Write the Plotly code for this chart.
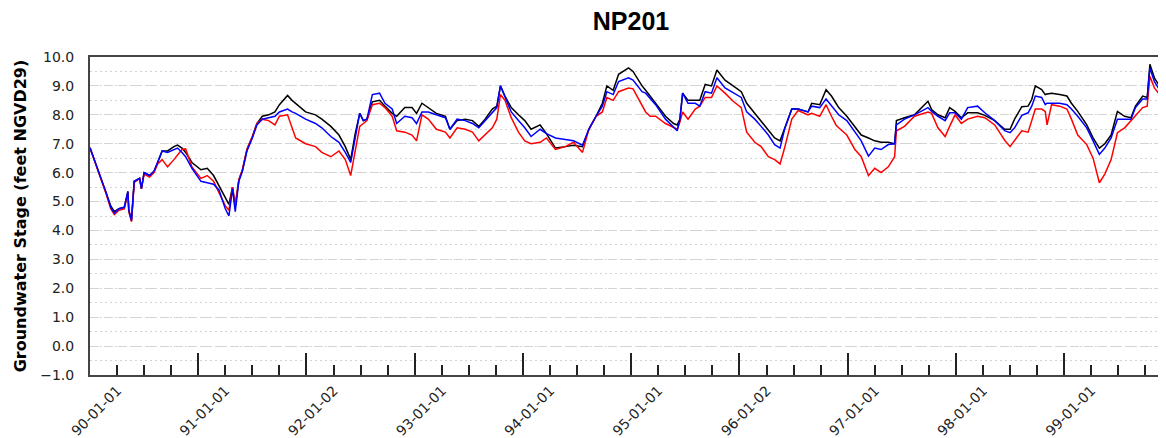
import numpy as np
import pandas as pd
import plotly.graph_objects as go

# ---- data ----
# months elapsed since 1989-10-01 (start of water year 1990)
month_offset = [
    0.0, 1.0, 1.8, 2.3, 2.7, 3.2, 3.8, 4.2, 4.3, 4.6, 4.9, 5.5, 5.7, 6.0, 6.6, 7.1, 7.5,
    8.0, 8.6, 9.3, 9.7, 10.2, 10.6, 11.3, 12.3, 13.0, 13.7, 14.3, 15.0, 15.4, 15.8, 16.1,
    16.5, 16.9, 17.4, 18.0, 18.5, 19.1, 19.8, 20.5,
    21.0, 21.9, 22.4, 22.8, 23.9, 25.0, 25.7, 26.7, 27.6, 28.3, 28.9, 29.4, 29.9, 30.3,
    30.7, 31.3, 32.1, 32.7, 33.5, 34.0, 34.9, 35.7, 36.2, 36.8, 37.5, 38.4, 39.4, 39.9, 40.7,
    41.6, 42.4, 43.1, 43.8, 44.6, 45.1, 45.5, 46.0, 46.7, 47.5, 48.2, 48.9, 49.9, 50.6,
    51.6, 52.7, 53.6, 54.6, 55.3, 56.1, 56.8, 57.3, 58.0, 58.6, 59.7, 60.2, 61.2,
    61.6, 62.1, 62.7, 63.8, 64.7, 65.1, 65.4, 65.7, 66.3, 67.1, 67.6, 68.2, 68.9, 69.5,
    70.4, 71.3, 72.2, 72.8, 73.7, 74.4, 75.2, 75.9, 76.5, 77.0, 77.8, 78.5, 79.6, 80.0,
    80.9, 81.6, 82.2, 82.7,
    83.0, 83.9, 84.8, 85.5, 86.3, 87.0, 87.7, 88.5, 89.2, 89.4, 90.3, 91.4, 92.9, 93.3,
    94.0, 94.8, 95.3, 95.9, 96.6, 97.3, 98.4, 99.2, 100.3, 101.4, 102.0, 102.5, 103.3,
    104.0, 104.4, 104.8, 105.5, 105.9, 106.1, 106.6, 107.5, 108.3, 108.8, 109.5, 110.5,
    111.2, 111.9, 112.5, 113.2, 113.9, 114.7, 115.4, 115.9, 116.7, 117.2, 117.5, 118.0,
    118.7, 119.7, 120.0,
]

stage_black = [
    6.86, 6.00, 5.30, 4.85, 4.65, 4.75, 4.80, 5.35, 4.70, 4.35, 5.70, 5.80, 5.45, 6.00, 5.90, 6.05, 6.35,
    6.75, 6.75, 6.90, 6.95, 6.85, 6.70, 6.35, 6.10, 6.15, 5.90, 5.55, 5.10, 4.90, 5.50, 4.85,
    5.75, 6.10, 6.80, 7.25, 7.70, 7.95, 8.00, 8.10,
    8.35, 8.67, 8.50, 8.40, 8.10, 8.00, 7.85, 7.60, 7.30, 6.90, 6.45, 7.35, 8.05, 7.80,
    7.85, 8.45, 8.50, 8.30, 8.05, 7.95, 8.25, 8.25, 8.05, 8.40, 8.25, 8.05, 7.95, 7.50, 7.80,
    7.85, 7.80, 7.60, 7.85, 8.20, 8.30, 9.00, 8.65, 8.25, 8.00, 7.80, 7.50, 7.65, 7.35,
    6.85, 6.90, 6.95, 6.90, 7.50, 7.95, 8.40, 9.00, 8.85, 9.40, 9.62, 9.50, 9.00,
    8.85, 8.65, 8.40, 7.95, 7.70, 7.65, 7.85, 8.75, 8.50, 8.50, 8.50, 9.05, 9.00, 9.55,
    9.20, 9.00, 8.80, 8.40, 8.05, 7.80, 7.50, 7.20, 7.10, 7.50, 8.20, 8.20, 8.10, 8.40,
    8.35, 8.87, 8.65, 8.40,
    8.25, 7.95, 7.60, 7.30, 7.20, 7.10, 7.05, 7.05, 7.00, 7.80, 7.90, 8.00, 8.47, 8.18,
    8.00, 7.90, 8.25, 8.12, 7.90, 8.07, 8.07, 7.98, 7.80, 7.50, 7.50, 7.85, 8.28,
    8.30, 8.53, 9.00, 8.87, 8.70, 8.72, 8.75, 8.70, 8.65, 8.40, 8.12, 7.65,
    7.20, 6.85, 7.00, 7.30, 8.12, 7.95, 7.90, 8.30, 8.65, 8.60, 9.75, 9.28,
    8.93, 8.60, 8.55,
]

stage_blue = [
    6.86, 6.00, 5.30, 4.80, 4.60, 4.75, 4.80, 5.35, 4.70, 4.35, 5.70, 5.80, 5.45, 6.00, 5.90, 6.05, 6.35,
    6.75, 6.70, 6.80, 6.85, 6.70, 6.55, 6.15, 5.70, 5.65, 5.60, 5.40, 4.75, 4.50, 5.45, 4.65,
    5.70, 6.05, 6.75, 7.20, 7.65, 7.85, 7.90, 7.95,
    8.10, 8.20, 8.10, 8.05, 7.85, 7.70, 7.55, 7.25, 7.05, 6.70, 6.35, 7.15, 8.05, 7.80,
    7.85, 8.70, 8.75, 8.40, 8.20, 7.70, 7.95, 7.90, 7.70, 8.10, 8.10, 8.00, 7.90, 7.50, 7.85,
    7.80, 7.70, 7.55, 7.80, 8.10, 8.25, 9.00, 8.60, 8.10, 7.80, 7.55, 7.25, 7.50, 7.35,
    7.20, 7.15, 7.10, 6.95, 7.50, 7.95, 8.30, 8.80, 8.70, 9.15, 9.28, 9.20, 8.80,
    8.75, 8.55, 8.35, 7.85, 7.55, 7.45, 7.85, 8.75, 8.40, 8.40, 8.30, 8.80, 8.75, 9.28,
    8.93, 8.75, 8.60, 8.10, 7.85, 7.60, 7.30, 6.97, 6.85, 7.50, 8.20, 8.20, 8.10, 8.30,
    8.25, 8.55, 8.32, 8.15,
    8.00, 7.80, 7.38, 7.10, 6.57, 6.85, 6.80, 6.97, 7.00, 7.65, 7.85, 8.00, 8.25, 8.12,
    7.95, 7.80, 8.07, 8.07, 7.85, 8.25, 8.30, 8.07, 7.80, 7.45, 7.38, 7.55, 7.98,
    8.07, 8.30, 8.65, 8.60, 8.35, 8.40, 8.40, 8.40, 8.35, 8.20, 7.95, 7.55,
    7.10, 6.63, 6.85, 7.20, 7.85, 7.85, 7.85, 8.25, 8.55, 8.55, 9.62, 9.15,
    8.80, 8.55, 8.50,
]

stage_red = [
    6.86, 6.00, 5.25, 4.75, 4.55, 4.70, 4.75, 5.30, 4.65, 4.30, 5.65, 5.80, 5.45, 5.95, 5.85, 6.00, 6.30,
    6.45, 6.20, 6.45, 6.60, 6.80, 6.82, 6.20, 5.80, 5.90, 5.70, 5.30, 4.85, 4.70, 5.50, 4.85,
    5.75, 6.10, 6.80, 7.25, 7.70, 7.85, 7.80, 7.65,
    7.95, 8.00, 7.55, 7.20, 7.00, 6.90, 6.70, 6.55, 6.75, 6.45, 5.90, 6.70, 7.60, 7.70,
    7.80, 8.35, 8.40, 8.25, 7.95, 7.45, 7.40, 7.30, 7.10, 8.00, 7.85, 7.50, 7.40, 7.20, 7.55,
    7.50, 7.40, 7.10, 7.30, 7.55, 7.85, 8.70, 8.50, 7.90, 7.40, 7.10, 7.00, 7.05, 7.20,
    6.80, 6.90, 7.05, 6.70, 7.50, 7.95, 8.10, 8.60, 8.50, 8.80, 8.93, 8.90, 8.30,
    8.10, 7.95, 7.95, 7.70, 7.55, 7.50, 7.75, 8.10, 7.85, 8.20, 8.30, 8.60, 8.60, 9.00,
    8.75, 8.47, 8.25, 7.40, 7.05, 6.90, 6.55, 6.45, 6.30, 6.85, 7.85, 8.15, 8.00, 8.05,
    7.95, 8.35, 7.95, 7.65,
    7.55, 7.30, 6.80, 6.55, 5.90, 6.15, 6.00, 6.20, 6.55, 7.45, 7.60, 7.95, 8.10, 8.05,
    7.55, 7.25, 7.60, 8.00, 7.70, 7.85, 7.95, 7.90, 7.65, 7.12, 6.90, 7.10, 7.45,
    7.40, 7.80, 8.20, 8.20, 8.12, 7.65, 8.35, 8.30, 8.20, 7.85, 7.30, 6.97,
    6.50, 5.65, 5.95, 6.45, 7.38, 7.55, 7.80, 8.00, 8.25, 8.30, 9.33, 8.93,
    8.65, 8.40, 8.35,
]

# axis tick labels (placed on these dates)
label_dates = ["1990-01-01", "1991-01-01", "1992-01-02", "1993-01-01", "1994-01-01",
               "1995-01-01", "1996-01-02", "1997-01-01", "1998-01-01", "1999-01-01"]
label_text = ["90-01-01", "91-01-01", "92-01-02", "93-01-01", "94-01-01",
              "95-01-01", "96-01-02", "97-01-01", "98-01-01", "99-01-01"]
quarter_tick_dates = [f"{y}-{m}-01" for y in range(1990, 2000) for m in ("04", "07")]
water_year_tick_dates = [f"{y}-10-01" for y in range(1990, 1999)]
y_ticks = [-1, 0, 1, 2, 3, 4, 5, 6, 7, 8, 9, 10]

start = pd.Timestamp("1989-10-01")
dates = start + pd.to_timedelta(np.array(month_offset) * 30.4375, unit="D")

fig = go.Figure()
for vals, col in ((stage_black, "#000000"), (stage_red, "#ff0000"), (stage_blue, "#0000ff")):
    fig.add_trace(go.Scatter(x=dates, y=vals, mode="lines",
                             line=dict(color=col, width=1.5), showlegend=False))

tickvals = label_dates + quarter_tick_dates
ticktext = label_text + [""] * len(quarter_tick_dates)

fig.update_layout(
    width=1166, height=438,
    margin=dict(l=82, r=0, t=49, b=71),
    paper_bgcolor="white", plot_bgcolor="white",
    font=dict(family="DejaVu Sans", size=14, color="#222222"),
    title=dict(text="<b>NP201</b>", x=0.5, xref="paper", y=1 - 4 / 438, yref="container",
               xanchor="center", yanchor="top",
               font=dict(family="Liberation Sans", size=25, color="#000000")),
    showlegend=False,
)
fig.update_xaxes(
    type="date", range=["1989-10-01", "1999-09-30"],
    showgrid=False, zeroline=False,
    showline=True, linecolor="#444444", linewidth=2, mirror=True,
    tickmode="array", tickvals=tickvals, ticktext=ticktext,
    ticks="inside", ticklen=10, tickwidth=1.5, tickcolor="#222222",
    tickangle=-45, tickfont=dict(family="DejaVu Sans", size=14, color="#222222"),
    minor=dict(tickmode="array", tickvals=water_year_tick_dates,
               ticks="inside", ticklen=22, tickwidth=1.5, tickcolor="#222222", showgrid=False),
)
fig.update_yaxes(
    range=[-1, 10], tickmode="array", tickvals=y_ticks,
    tickformat=".1f", ticks="", zeroline=False,
    showline=True, linecolor="#444444", linewidth=2, mirror=True,
    showgrid=True, gridcolor="#d4d4d4", gridwidth=1, griddash="9px,5px",
    minor=dict(dtick=0.5, showgrid=True, gridcolor="#d4d4d4", gridwidth=1, griddash="2px,3px"),
    ticklabelstandoff=11,
    title=dict(text="<b>Groundwater Stage (feet NGVD29)</b>", standoff=10,
               font=dict(family="DejaVu Sans", size=16, color="#000000")),
)

fig.write_html("out.html")
